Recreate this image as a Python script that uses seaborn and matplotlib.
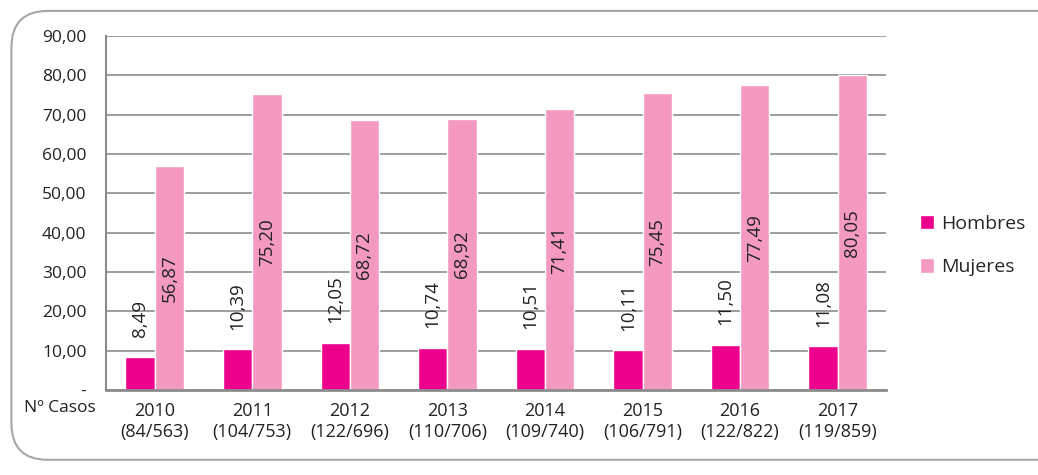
import matplotlib
matplotlib.use("Agg")
import matplotlib.pyplot as plt
import pandas as pd
import seaborn as sns
from matplotlib.patches import FancyBboxPatch

years = ["2010", "2011", "2012", "2013", "2014", "2015", "2016", "2017"]
casos = ["(84/563)", "(104/753)", "(122/696)", "(110/706)",
         "(109/740)", "(106/791)", "(122/822)", "(119/859)"]
hombres = [8.49, 10.39, 12.05, 10.74, 10.51, 10.11, 11.50, 11.08]
mujeres = [56.87, 75.20, 68.72, 68.92, 71.41, 75.45, 77.49, 80.05]
series = ["Hombres", "Mujeres"]
colors = ["#EC008C", "#F49AC1"]

labels = [f"{y}\n{c}" for y, c in zip(years, casos)]
df = pd.DataFrame({
    "cat": labels * 2,
    "serie": ["Hombres"] * len(years) + ["Mujeres"] * len(years),
    "valor": hombres + mujeres,
})

sns.set_style("white")
plt.rcParams["font.family"] = ["Open Sans", "DejaVu Sans"]
grey = "#8C8C8C"
txt = "#222222"

fig = plt.figure(figsize=(10.38, 4.75), dpi=100)
ax = fig.add_axes([0.102, 0.179, 0.752, 0.745])

sns.barplot(data=df, x="cat", y="valor", hue="serie", palette=colors,
            width=0.6, saturation=1, ax=ax, legend=True)

def fmt(v):
    return f"{v:.2f}".replace(".", ",")

for cont, name in zip(ax.containers, series):
    for bar in cont:
        h = bar.get_height()
        xc = bar.get_x() + bar.get_width() / 2
        if name == "Hombres":
            ax.annotate(fmt(h), (xc, h), xytext=(0, 14), textcoords="offset points",
                        rotation=90, ha="center", va="bottom", fontsize=13.5, color=txt)
        else:
            ax.text(xc, h / 2, fmt(h), rotation=90, ha="center", va="center",
                    fontsize=13.5, color=txt)

ax.set_ylim(0, 90)
ax.set_yticks(range(0, 91, 10))
ax.set_yticklabels(["-"] + [fmt(v) for v in range(10, 91, 10)])
ax.yaxis.grid(True, color=grey, linewidth=1.2)
ax.set_axisbelow(True)
ax.set_xlabel("")
ax.set_ylabel("")
ax.tick_params(axis="y", labelsize=12.5, colors=txt, length=5, width=1.2, color=grey, pad=9)
ax.tick_params(axis="x", labelsize=13, colors=txt, length=0, pad=9)
for s in ["top", "right"]:
    ax.spines[s].set_visible(False)
ax.spines["left"].set_color(grey)
ax.spines["left"].set_linewidth(1.5)
ax.spines["bottom"].set_color(grey)
ax.spines["bottom"].set_linewidth(2)

fig.text(0.058, 0.14, "Nº Casos", ha="center", va="center", fontsize=12.5, color=txt)

ax.legend(loc="center left", bbox_to_anchor=(1.02, 0.408), frameon=False,
          fontsize=14, handlelength=0.75, handleheight=0.75, handletextpad=0.35,
          labelspacing=1.3)

frame = FancyBboxPatch((0.011, 0.032), 1.2, 0.945, boxstyle="round,pad=0,rounding_size=0.035",
                       transform=fig.transFigure, facecolor="none", edgecolor="#A6A6A6",
                       linewidth=1.5, mutation_aspect=2.2)
fig.patches.append(frame)

fig.savefig("out.png", dpi=100)
